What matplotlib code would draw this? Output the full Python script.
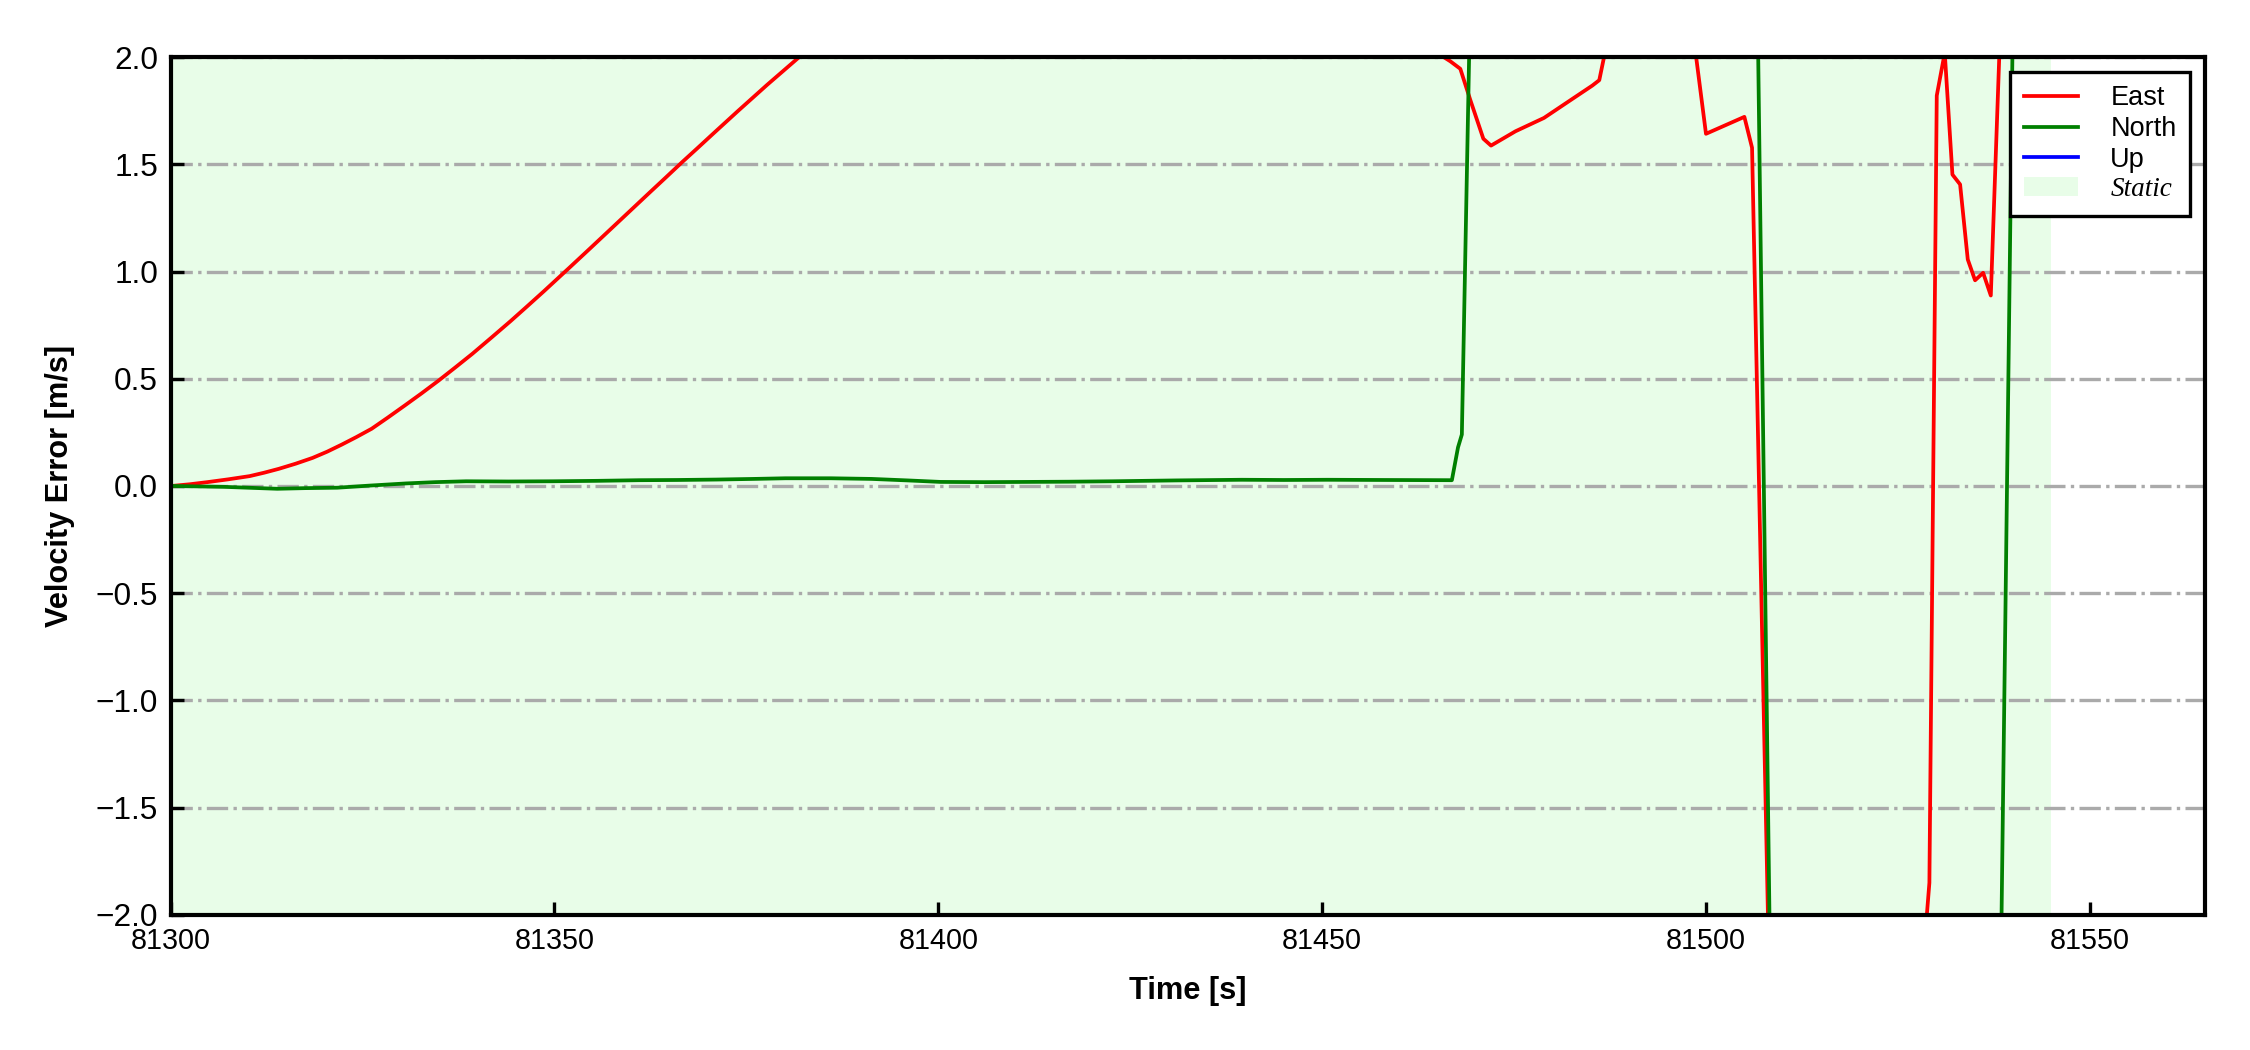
import matplotlib
matplotlib.use('Agg')
import matplotlib.pyplot as plt
import numpy as np

plt.rcParams['font.family'] = ['Liberation Sans', 'DejaVu Sans']

t0 = 81300

# East velocity error (time offset from 81300 s, value m/s)
east_t = [0.1, 2.5, 4.8, 7.5, 10.3, 12.2, 14.1, 16.3, 18.5, 20.4, 22.3, 24.2,
          26.2, 28.3, 30.5, 32.7, 34.9, 37.1, 39.3, 41.8, 44.3, 46.4, 48.6,
          51.9, 54.6, 57.4, 59.9, 62.4, 64.5, 66.7, 68.6, 70.6, 73.9, 75.8,
          77.7, 79.8, 81.8, 83.0,
          164.5, 166.7, 168.0, 169.3, 171.0, 172.0, 175.2, 178.9, 182.4, 185.2,
          186.1, 187.3,
          198.0, 200.0, 205.0, 206.0, 207.0, 208.0, 209.0,
          228.1, 229.1, 230.06, 231.1, 232.1, 233.1, 234.1, 235.05, 236.1,
          237.1, 238.2, 239.0]
east_v = [0.0, 0.008, 0.018, 0.031, 0.046, 0.062, 0.080, 0.104, 0.131, 0.160,
          0.193, 0.228, 0.267, 0.319, 0.375, 0.432, 0.491, 0.553, 0.616,
          0.692, 0.769, 0.836, 0.907, 1.016, 1.106, 1.200, 1.284, 1.368,
          1.438, 1.512, 1.574, 1.640, 1.748, 1.809, 1.870, 1.935, 1.997, 2.07,
          2.03, 1.98, 1.945, 1.80, 1.619, 1.587, 1.654, 1.716, 1.80, 1.867,
          1.892, 2.1,
          2.2, 1.642, 1.721, 1.577, -0.15, -1.88, -3.6,
          -2.3, -1.85, 1.82, 2.02, 1.452, 1.406, 1.056, 0.959, 0.994,
          0.888, 2.0, 3.0]

# North velocity error
north_t = [0.4, 7.0, 13.9, 17.5, 21.7, 26.0, 30.7, 34.5, 38.5, 44.0, 49.8,
           55.5, 61.0, 66.0, 71.1, 76.0, 80.1, 86.0, 91.3, 96.0, 100.3, 106.0,
           111.5, 117.0, 122.7, 131.0, 139.5, 145.0, 150.7, 158.0, 166.9,
           167.7, 168.2, 169.2, 170.0,
           206.0, 207.0, 208.0, 209.0,
           238.0, 239.0, 240.0]
north_v = [0.0, -0.004, -0.013, -0.010, -0.008, 0.002, 0.012, 0.018, 0.022,
           0.021, 0.022, 0.024, 0.027, 0.028, 0.030, 0.033, 0.036, 0.036,
           0.033, 0.026, 0.019, 0.018, 0.019, 0.020, 0.022, 0.026, 0.029,
           0.028, 0.029, 0.028, 0.027, 0.18, 0.24, 2.1, 3.5,
           4.2, 1.46, -1.27, -4.0,
           -3.4, -0.6, 2.25]

# Up velocity error: entirely off-scale in the reference view
up_t = []
up_v = []

static_start = 81300
static_end = 81545

fig = plt.figure(figsize=(7.5, 3.5), dpi=300)
ax = fig.add_axes([0.0758, 0.1286, 0.9042, 0.8171])

ax.axvspan(static_start, static_end, color='#e8fde8', lw=0, label='Static', zorder=0)
ax.plot(np.array(east_t) + t0, east_v, color='red', lw=0.9, label='East')
ax.plot(np.array(north_t) + t0, north_v, color='green', lw=0.9, label='North')
ax.plot(np.array(up_t) + t0, up_v, color='blue', lw=0.9, label='Up')

ax.set_xlim(81300, 81565)
ax.set_ylim(-2.0, 2.0)
ax.set_xticks([81300, 81350, 81400, 81450, 81500, 81550])
ax.set_yticks(np.arange(-2.0, 2.01, 0.5))
ax.yaxis.grid(True, linestyle='-.', color='#aaaaaa', lw=0.8)
ax.tick_params(direction='in', length=3.2, width=0.8, labelsize=6.9, pad=3)
ax.tick_params(axis='y', labelsize=7.6)
for sp in ax.spines.values():
    sp.set_linewidth(1.0)

lab_font = dict(family=['Liberation Sans Narrow', 'Liberation Sans'], weight='bold', size=7.4)
ax.set_xlabel('Time [s]', fontdict=lab_font, labelpad=5)
ax.set_ylabel('Velocity Error [m/s]', fontdict=lab_font, labelpad=5)

h, l = ax.get_legend_handles_labels()
order = [l.index(n) for n in ['East', 'North', 'Up', 'Static']]
leg = ax.legend([h[i] for i in order], [l[i] for i in order], loc='upper right',
                fontsize=6.5, fancybox=False, edgecolor='black', framealpha=1,
                borderaxespad=0.55, labelspacing=0.17, handletextpad=1.2,
                borderpad=0.5)
leg.get_frame().set_linewidth(0.8)
st = leg.get_texts()[3]
st.set_fontfamily('Liberation Serif')
st.set_fontstyle('italic')

fig.savefig('out.png', dpi=300)
